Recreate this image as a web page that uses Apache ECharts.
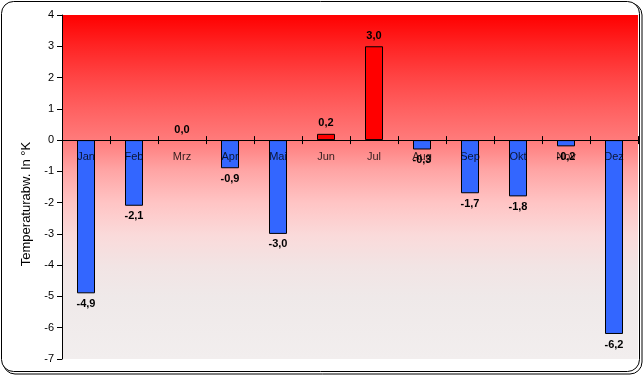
<!DOCTYPE html>
<html><head><meta charset="utf-8">
<script src="https://cdn.jsdelivr.net/npm/echarts@6/dist/echarts.min.js"></script>
<style>html,body{margin:0;padding:0;background:#fff;}#c{width:643px;height:375px;}</style>
</head><body><div id="c"></div>
<script>
const categories = ['Jan','Feb','Mrz','Apr','Mai','Jun','Jul','Aug','Sep','Okt','Nov','Dez'];
const values = [-4.9, -2.1, 0.0, -0.9, -3.0, 0.2, 3.0, -0.3, -1.7, -1.8, -0.2, -6.2];
const yTicks = [-7, -6, -5, -4, -3, -2, -1, 0, 1, 2, 3, 4];
const yTitle = 'Temperaturabw. In °K';

const FONT = 'Liberation Sans, Arial, sans-serif';
const chart = echarts.init(document.getElementById('c'), null, {renderer: 'canvas'});

const barData = values.map(v => ({
  value: v,
  itemStyle: {color: v > 0 ? '#ff0000' : '#3366ff', borderColor: '#000', borderWidth: v === 0 ? 0 : 1},
  label: {position: v >= 0 ? 'top' : 'bottom'}
}));

const bg = new echarts.graphic.LinearGradient(0, 0, 0, 1, [
  {offset: 0, color: '#ff0000'},
  {offset: 0.09, color: '#ff2424'},
  {offset: 0.18, color: '#ff4444'},
  {offset: 0.27, color: '#ff6060'},
  {offset: 0.36, color: '#ff7a7a'},
  {offset: 0.40, color: '#ff8c8c'},
  {offset: 0.45, color: '#ffa4a4'},
  {offset: 0.545, color: '#ffc4c4'},
  {offset: 0.64, color: '#fadada'},
  {offset: 0.73, color: '#f2e4e4'},
  {offset: 0.82, color: '#efe9e9'},
  {offset: 1, color: '#f2eeee'}
]);

const yCommon = {
  type: 'value', min: -7, max: 4, interval: 1
};

chart.setOption({
  animation: false,
  textStyle: {fontFamily: FONT},
  graphic: [
    {type: 'rect', z: -10, shape: {x: 3, y: 3, width: 639, height: 371, r: 12}, style: {fill: 'none', stroke: '#000', lineWidth: 1}},
    {type: 'rect', z: -9, shape: {x: 1.5, y: 1.5, width: 638, height: 370, r: 12}, style: {fill: '#fff', stroke: '#000', lineWidth: 1}}
  ],
  grid: {left: 62, right: 5, top: 15, bottom: 16, show: true, backgroundColor: bg, borderWidth: 0, z: 0},
  xAxis: [{
    type: 'category', data: categories, z: 10, position: 'bottom',
    axisLine: {onZero: true, onZeroAxisIndex: 0, lineStyle: {color: '#000', width: 1}},
    axisTick: {show: true, inside: true, length: 4, lineStyle: {color: '#000'}},
    axisLabel: {show: false},
    splitLine: {show: false}
  }, {
    type: 'category', data: categories, z: 10, position: 'bottom',
    axisLine: {onZero: true, onZeroAxisIndex: 1, lineStyle: {color: '#000', width: 1}},
    axisTick: {show: true, inside: false, length: 4, lineStyle: {color: '#000'}},
    axisLabel: {show: false},
    splitLine: {show: false}
  }],
  yAxis: [Object.assign({}, yCommon, {
    z: 10,
    name: yTitle, nameLocation: 'middle', nameGap: 21, nameRotate: 90,
    nameTextStyle: {color: '#000', fontSize: 13, fontFamily: FONT, padding: [0, 34, 0, 0]},
    axisLine: {show: true, lineStyle: {color: '#000', width: 1}},
    axisTick: {show: true, length: 5, lineStyle: {color: '#000'}},
    axisLabel: {color: '#000', fontSize: 11, fontFamily: FONT, margin: 8,
      formatter: v => yTicks.includes(v) ? String(v) : ''},
    splitLine: {show: false}
  }), Object.assign({}, yCommon, {
    position: 'left', show: false
  })],
  series: [{
    type: 'bar', data: barData, barWidth: '37.5%', z: 5,
    label: {show: true, color: '#000', fontWeight: 'bold', fontSize: 11, fontFamily: FONT, distance: 5,
      formatter: p => p.value.toFixed(1).replace('.', ',')}
  }, {
    type: 'scatter', z: 20, symbolSize: 0, silent: true,
    data: categories.map(c => [c, 0]),
    label: {show: true, position: 'bottom', distance: 11, color: '#000', fontSize: 11, fontFamily: FONT,
      formatter: p => p.value[0]}
  }]
});
</script></body></html>
